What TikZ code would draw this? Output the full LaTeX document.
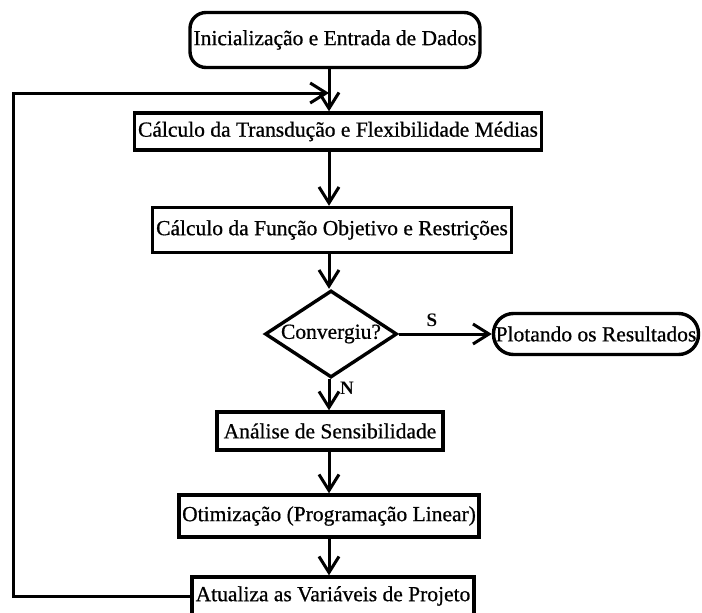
\documentclass[tikz,border=0pt]{standalone}
\usepackage{fontspec}
\setmainfont{Liberation Serif}
\newfontfamily\scanfont{Liberation Serif}[FakeBold=0.7]
\usetikzlibrary{arrows.meta,shapes.geometric}
\begin{document}
\begin{tikzpicture}[x=1pt,y=-1pt,
  txt/.style={font=\scanfont\fontsize{21.5}{24}\selectfont},
  box/.style={draw,line width=3.4pt,inner sep=0pt,align=center,txt},
  term/.style={box,rounded corners=16pt},
  dec/.style={draw,line width=3.4pt,diamond,inner sep=0pt,minimum width=132pt,minimum height=87pt},
  arr/.style={line width=3pt,-{Straight Barb[length=16pt,width=20pt,line width=3pt]}},
  lbl/.style={font=\bfseries\fontsize{19}{22}\selectfont,inner sep=0pt}]
\useasboundingbox (0,0) rectangle (702,613);
\coordinate (sp) at (329,0);
\node[term,minimum width=290pt,minimum height=55pt] (ini) at (335,40) {Inicialização e Entrada de Dados};
\node[box,minimum width=407pt,minimum height=37pt] (calc1) at (338,131.5) {Cálculo da Transdução e Flexibilidade Médias};
\node[box,minimum width=359pt,minimum height=45pt] (calc2) at (332,230) {Cálculo da Função Objetivo e Restrições};
\node[dec,label={[txt]center:Convergiu?}] (dia) at (331,334) {};
\node[term,rounded corners=20pt,minimum width=205pt,minimum height=41pt] (plot) at (596,334) {Plotando os Resultados};
\node[box,minimum width=226pt,minimum height=38pt] (ana) at (330,431) {Análise de Sensibilidade};
\node[box,minimum width=300pt,minimum height=42pt] (oti) at (329,516) {Otimização (Programação Linear)};
\node[box,minimum width=282pt,minimum height=38pt] (atu) at (333,596) {Atualiza as Variáveis de Projeto};
\coordinate (fbl) at (13,93);
\coordinate (fb) at (329,93);
\draw[arr] (ini.south -| sp) -- (calc1.north -| sp);
\draw[arr] (calc1.south -| sp) -- (calc2.north -| sp);
\draw[arr] (calc2.south -| sp) -- (dia.north -| sp);
\draw[arr] (dia.east) -- (plot.west);
\draw[arr] (dia.south -| sp) -- (ana.north -| sp);
\draw[arr] (ana.south -| sp) -- (oti.north -| sp);
\draw[arr] (oti.south -| sp) -- (atu.north -| sp);
\draw[arr] (atu.west) -| (fbl) -- (fb);
\node[lbl] (s) at (432,320) {S};
\node[lbl] (n) at (347,388) {N};
\end{tikzpicture}
\end{document}
